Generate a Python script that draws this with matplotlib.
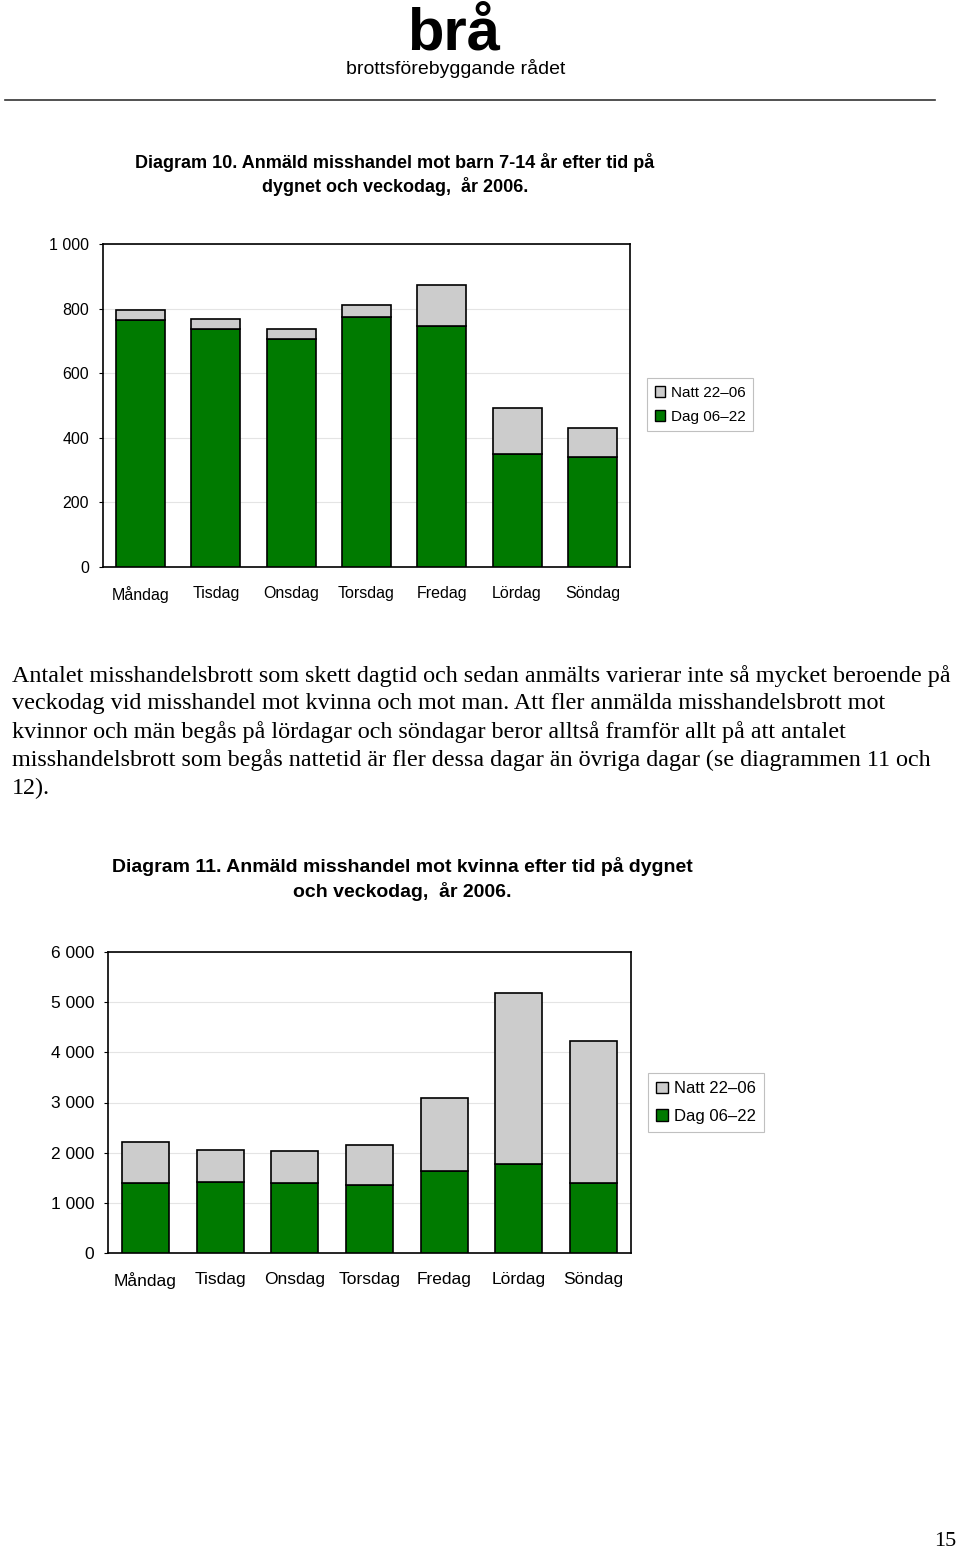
import matplotlib
matplotlib.use("Agg")
import matplotlib.pyplot as plt
from matplotlib.patches import Patch

days = ["Måndag", "Tisdag", "Onsdag", "Torsdag", "Fredag", "Lördag", "Söndag"]

# Diagram 10: barn 7-14 år
barn_dag = [765, 737, 706, 774, 746, 350, 341]
barn_natt = [31, 31, 31, 37, 127, 142, 89]

# Diagram 11: kvinna
kvinna_dag = [1395, 1415, 1395, 1355, 1634, 1774, 1395]
kvinna_natt = [817, 638, 638, 798, 1455, 3408, 2831]

GREEN = "#007a00"
GREY = "#cccccc"
W, H = 960, 1551

fig = plt.figure(figsize=(W / 100, H / 100), dpi=100)
plt.rcParams['font.family'] = ['Liberation Sans', 'DejaVu Sans']


def px(x, y):
    return x / W, 1 - y / H


def ax_at(left, top, right, bottom):
    return fig.add_axes([left / W, 1 - bottom / H, (right - left) / W, (bottom - top) / H])


def fmt(v):
    return f"{int(v):,}".replace(",", " ")


def stacked(ax, dag, natt, ymax, step, width, fs):
    x = range(len(days))
    ax.bar(x, dag, width=width, color=GREEN, edgecolor="black", linewidth=1.2, zorder=3)
    ax.bar(x, natt, bottom=dag, width=width, color=GREY, edgecolor="black", linewidth=1.2, zorder=3)
    ax.set_xlim(-0.5, len(days) - 0.5)
    ax.set_ylim(0, ymax)
    ticks = list(range(0, ymax + 1, step))
    ax.set_yticks(ticks)
    ax.set_yticklabels([fmt(t) for t in ticks], fontsize=fs)
    ax.set_xticks(list(x))
    ax.set_xticklabels(days, fontsize=fs)
    ax.tick_params(axis="x", length=0, pad=14)
    ax.tick_params(axis="y", length=3, pad=7)
    ax.grid(axis="y", color="#e4e4e4", linewidth=0.8, zorder=0)
    for s in ax.spines.values():
        s.set_linewidth(1.2)


def legend(left, top, fs, spacing):
    handles = [Patch(facecolor=GREY, edgecolor="black", label="Natt 22–06"),
               Patch(facecolor=GREEN, edgecolor="black", label="Dag 06–22")]
    lg = fig.legend(handles=handles, loc="upper left", bbox_to_anchor=px(left, top),
                    bbox_transform=fig.transFigure, borderaxespad=0, fontsize=fs,
                    handlelength=0.7, handleheight=0.7, handletextpad=0.35,
                    labelspacing=spacing, borderpad=0.5, fancybox=False, framealpha=1)
    lg.get_frame().set_edgecolor("#c0c0c0")
    lg.get_frame().set_linewidth(0.8)


# header
fig.text(*px(454, 50), "brå", fontsize=43, fontweight="bold", ha="center", va="baseline")
fig.text(*px(456, 69), "brottsförebyggande rådet",
         fontsize=14, ha="center", va="center")
fig.add_artist(plt.Line2D([5 / W, 935 / W], [1 - 100 / H, 1 - 100 / H], color="#333333", linewidth=1.2))

# Diagram 10
fig.text(*px(395, 162), "Diagram 10. Anmäld misshandel mot barn 7-14 år efter tid på",
         fontsize=13, fontweight="bold", ha="center", va="center")
fig.text(*px(395, 187), "dygnet och veckodag,  år 2006.",
         fontsize=13, fontweight="bold", ha="center", va="center")
ax1 = ax_at(103, 244, 630, 567)
stacked(ax1, barn_dag, barn_natt, 1000, 200, 0.65, 11.5)
legend(647, 378, 11, 0.65)

# body text
body = [
    "Antalet misshandelsbrott som skett dagtid och sedan anmälts varierar inte så mycket beroende på",
    "veckodag vid misshandel mot kvinna och mot man. Att fler anmälda misshandelsbrott mot",
    "kvinnor och män begås på lördagar och söndagar beror alltså framför allt på att antalet",
    "misshandelsbrott som begås nattetid är fler dessa dagar än övriga dagar (se diagrammen 11 och",
    "12).",
]
for i, line in enumerate(body):
    fig.text(*px(12, 676 + 28 * i), line, fontsize=17.4, family=["Liberation Serif", "DejaVu Serif"],
             ha="left", va="center")

# Diagram 11
fig.text(*px(402, 866), "Diagram 11. Anmäld misshandel mot kvinna efter tid på dygnet",
         fontsize=14, fontweight="bold", ha="center", va="center")
fig.text(*px(402, 891), "och veckodag,  år 2006.",
         fontsize=14, fontweight="bold", ha="center", va="center")
ax2 = ax_at(108, 952, 631, 1253)
stacked(ax2, kvinna_dag, kvinna_natt, 6000, 1000, 0.63, 12.5)
legend(648, 1073, 12, 0.75)

fig.text(*px(945, 1541), "15", fontsize=16, family=["Liberation Serif", "DejaVu Serif"],
         ha="center", va="center")

fig.savefig("out.png", dpi=100)
